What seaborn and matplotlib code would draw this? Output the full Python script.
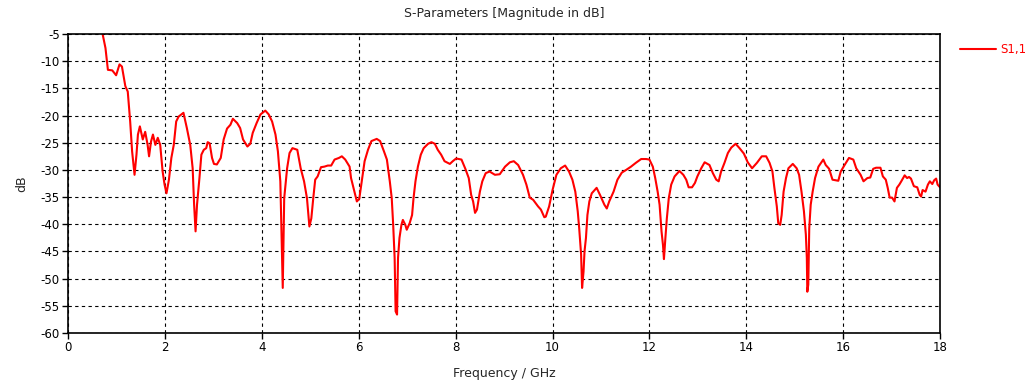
import matplotlib
matplotlib.use("Agg")
import matplotlib.pyplot as plt
import seaborn as sns
import pandas as pd

freq_ghz = [
    0.715, 0.77, 0.82, 0.91, 0.99, 1.06, 1.11, 1.18, 1.23, 1.28, 1.32, 1.37, 1.41, 1.44, 1.48,
    1.54, 1.59, 1.64, 1.67, 1.71, 1.75, 1.80, 1.85, 1.90, 1.95, 1.99, 2.03, 2.08, 2.13, 2.18,
    2.23, 2.28, 2.38, 2.45, 2.52, 2.57, 2.60, 2.63, 2.66, 2.71, 2.75, 2.80, 2.85, 2.88, 2.92,
    2.97, 3.01, 3.07, 3.15, 3.21, 3.28, 3.35, 3.40, 3.49, 3.55, 3.61, 3.70, 3.76, 3.81, 3.89,
    3.97, 4.07, 4.14, 4.21, 4.28, 4.33, 4.38, 4.40, 4.43, 4.46, 4.52, 4.57, 4.63, 4.73, 4.80,
    4.87, 4.93, 4.98, 5.02, 5.06, 5.10, 5.15, 5.22, 5.29, 5.36, 5.43, 5.50, 5.59, 5.65, 5.72,
    5.81, 5.84, 5.91, 5.96, 6.01, 6.07, 6.12, 6.19, 6.26, 6.37, 6.44, 6.52, 6.58, 6.64, 6.68,
    6.71, 6.74, 6.76, 6.79, 6.81, 6.84, 6.88, 6.91, 6.96, 6.99, 7.05, 7.10, 7.13, 7.17, 7.22,
    7.28, 7.34, 7.43, 7.50, 7.57, 7.63, 7.70, 7.77, 7.88, 7.94, 8.01, 8.12, 8.20, 8.27, 8.32,
    8.36, 8.40, 8.44, 8.50, 8.55, 8.62, 8.70, 8.81, 8.91, 9.02, 9.12, 9.20, 9.29, 9.39, 9.46,
    9.53, 9.60, 9.70, 9.76, 9.83, 9.86, 9.93, 10.00, 10.08, 10.17, 10.26, 10.34, 10.41, 10.47,
    10.52, 10.55, 10.59, 10.61, 10.64, 10.66, 10.69, 10.72, 10.76, 10.81, 10.91, 10.98, 11.07,
    11.12, 11.17, 11.26, 11.34, 11.43, 11.52, 11.62, 11.72, 11.83, 11.93, 12.00, 12.07, 12.12,
    12.17, 12.21, 12.25, 12.28, 12.30, 12.33, 12.36, 12.40, 12.45, 12.52, 12.62, 12.70, 12.76,
    12.81, 12.88, 12.94, 12.99, 13.07, 13.14, 13.24, 13.31, 13.38, 13.43, 13.48, 13.55, 13.62,
    13.69, 13.78, 13.86, 13.95, 14.03, 14.12, 14.22, 14.32, 14.41, 14.48, 14.54, 14.58, 14.63,
    14.66, 14.70, 14.73, 14.77, 14.82, 14.87, 14.96, 15.04, 15.09, 15.14, 15.19, 15.23, 15.25,
    15.26, 15.28, 15.30, 15.33, 15.37, 15.42, 15.49, 15.59, 15.64, 15.71, 15.78, 15.90, 15.95,
    16.03, 16.12, 16.21, 16.27, 16.36, 16.42, 16.50, 16.56, 16.62, 16.68, 16.77, 16.82, 16.88,
    16.92, 16.96, 17.01, 17.06, 17.11, 17.16, 17.20, 17.27, 17.32, 17.36, 17.40, 17.46, 17.53,
    17.58, 17.61, 17.64, 17.70, 17.75, 17.79, 17.84, 17.88, 17.92, 17.95, 18.00,
]
s11_db = [
    -5.2, -7.6, -11.6, -11.7, -12.6, -10.6, -11.0, -14.6, -15.6, -21.1, -26.6, -30.9, -27.2, -23.5, -22.0,
    -24.4, -23.0, -25.4, -27.5, -24.8, -23.5, -25.4, -24.1, -25.4, -30.3, -32.7, -34.3, -31.8, -27.8, -25.4,
    -21.1, -20.2, -19.5, -22.3, -25.4, -29.7, -36.4, -41.3, -36.4, -31.5, -27.2, -26.3, -26.0, -24.9, -25.1,
    -27.8, -28.9, -29.0, -27.8, -24.4, -22.4, -21.7, -20.6, -21.4, -22.3, -24.4, -25.7, -25.2, -23.2, -21.4,
    -19.8, -19.1, -19.8, -21.1, -23.5, -26.6, -32.1, -40.1, -51.7, -35.2, -29.7, -26.9, -26.0, -26.3, -29.7,
    -32.1, -35.2, -40.4, -38.9, -35.2, -31.8, -31.2, -29.5, -29.4, -29.2, -29.2, -28.1, -27.8, -27.5, -28.1,
    -29.4, -31.5, -34.0, -35.8, -35.3, -31.5, -28.4, -26.3, -24.7, -24.3, -24.7, -26.6, -28.1, -32.1, -35.2,
    -40.1, -46.2, -56.0, -56.6, -46.2, -42.5, -40.1, -39.2, -40.1, -41.0, -39.8, -38.3, -35.2, -32.1, -29.4,
    -27.2, -26.0, -25.2, -24.9, -25.2, -26.3, -27.2, -28.4, -28.9, -28.4, -27.9, -28.1, -29.8, -31.5, -34.6,
    -35.8, -37.9, -37.3, -34.0, -32.1, -30.6, -30.3, -30.9, -30.8, -29.4, -28.6, -28.4, -29.1, -30.9, -32.7,
    -35.1, -35.5, -36.7, -37.3, -38.7, -38.6, -36.7, -33.7, -30.9, -29.7, -29.2, -30.3, -31.8, -34.0,
    -37.6, -40.7, -45.6, -51.7, -48.7, -45.0, -42.5, -38.3, -35.8, -34.3, -33.3, -34.6, -36.4,
    -37.1, -35.8, -34.0, -31.8, -30.5, -30.0, -29.4, -28.7, -28.0, -28.0, -28.1, -29.4, -31.5,
    -34.0, -36.4, -41.3, -43.8, -46.4, -42.5, -38.9, -35.2, -32.7, -31.2, -30.2, -30.9, -31.8,
    -33.2, -33.2, -32.4, -31.2, -29.7, -28.6, -29.1, -30.6, -31.8, -32.1, -30.3, -28.7, -26.9,
    -25.9, -25.2, -26.0, -27.0, -28.6, -29.7, -28.7, -27.5, -27.5, -28.7, -30.3, -33.3, -36.7,
    -39.8, -40.1, -38.3, -34.0, -31.5, -29.7, -28.9, -29.7, -30.9, -34.0, -37.6, -41.9, -46.2,
    -52.4, -51.1, -40.7, -36.4, -34.0, -31.5, -29.4, -28.1, -29.1, -29.8, -31.8, -32.0, -30.3,
    -29.1, -27.8, -28.1, -29.7, -30.9, -32.1, -31.5, -31.4, -29.8, -29.6, -29.6, -31.2, -31.8,
    -33.3, -35.1, -35.1, -35.8, -33.3, -32.7, -32.1, -31.0, -31.5, -31.3, -31.6, -33.0, -33.2,
    -34.6, -34.9, -33.7, -34.0, -32.7, -32.1, -32.6, -31.9, -31.6, -32.7, -33.2,
]
x_ticks = [0, 2, 4, 6, 8, 10, 12, 14, 16, 18]
y_ticks = [-5, -10, -15, -20, -25, -30, -35, -40, -45, -50, -55, -60]
series_name = "S1,1"

df = pd.DataFrame({"Frequency": freq_ghz, "dB": s11_db, "series": series_name})

sns.set_style("ticks")
plt.rcParams["font.family"] = ["DejaVu Sans"]

fig = plt.figure(figsize=(10.33, 3.90), dpi=100)
ax = fig.add_axes([0.066, 0.146, 0.844, 0.767])

sns.lineplot(data=df, x="Frequency", y="dB", hue="series", palette=["#ff0000"],
             linewidth=1.5, ax=ax, sort=False, estimator=None)

ax.set_xlim(0, 18)
ax.set_ylim(-60, -5)
ax.set_xticks(x_ticks)
ax.set_yticks(y_ticks)
ax.set_xticklabels([str(t) for t in x_ticks], fontsize=8.5)
ax.set_yticklabels([str(t) for t in y_ticks], fontsize=8.5)
ax.grid(True, color="black", linestyle=(0, (3, 3)), linewidth=0.8)
for sp in ax.spines.values():
    sp.set_color("black")
    sp.set_linewidth(1.2)
ax.tick_params(direction="out", length=4, width=1, colors="black", pad=2)
ax.set_xlabel("Frequency / GHz", fontsize=9, labelpad=9)
ax.set_ylabel("dB", fontsize=9, labelpad=9)
ax.set_title("S-Parameters [Magnitude in dB]", fontsize=9, pad=12)

leg = ax.legend(loc="upper left", bbox_to_anchor=(1.018, 0.985), frameon=False,
                fontsize=8.5, handlelength=3.0, handletextpad=0.35, borderaxespad=0)
for t in leg.get_texts():
    t.set_color("#ff0000")

fig.savefig("out.png", dpi=100, facecolor="white")
